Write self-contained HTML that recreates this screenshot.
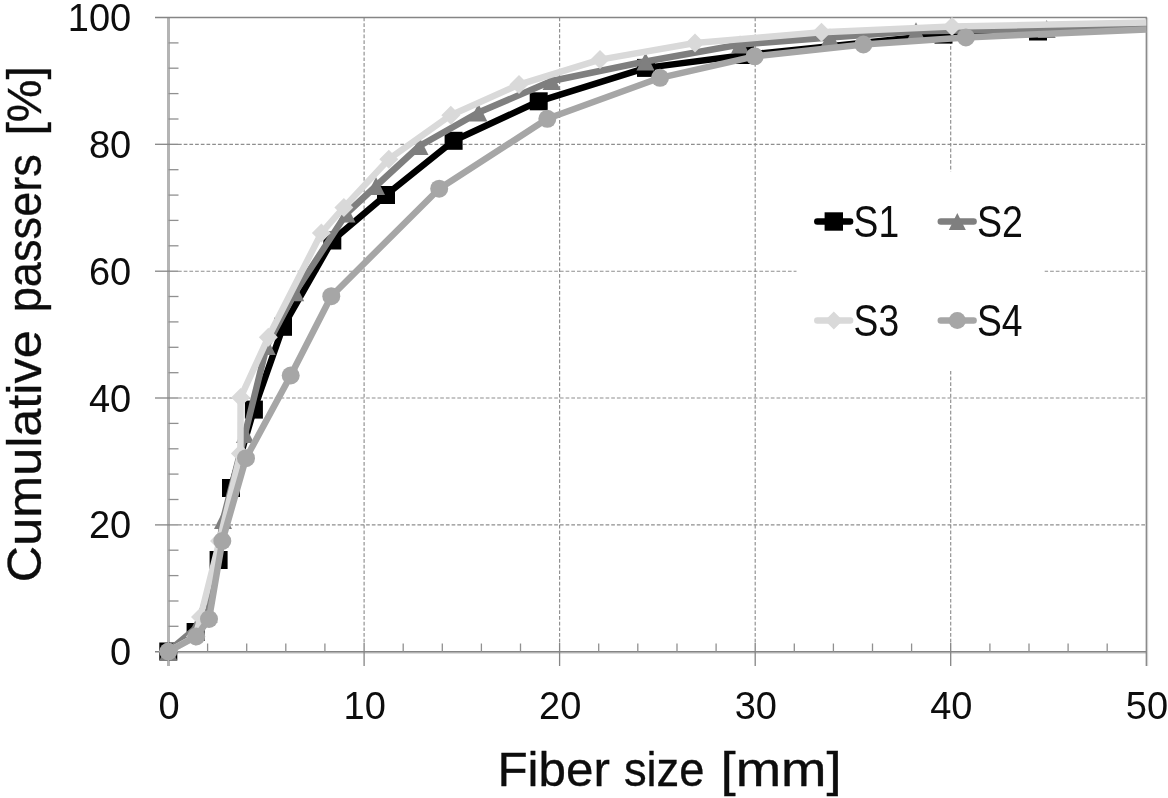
<!DOCTYPE html>
<html lang="en"><head><meta charset="utf-8"><title>Cumulative passers vs fiber size</title>
<style>html,body{margin:0;padding:0;background:#fff}body{width:1168px;height:798px;overflow:hidden}svg{display:block;filter:blur(0.55px)}text{font-family:"Liberation Sans",sans-serif;fill:#0d0d0d}</style>
</head><body>
<svg width="1168" height="798" viewBox="0 0 1168 798">
<rect width="1168" height="798" fill="#fff"/>
<g stroke="#8e8e8e" stroke-width="1.15" stroke-dasharray="3.7,2" fill="none">
<line x1="178.0" y1="524.9" x2="1146.3" y2="524.9"/>
<line x1="178.0" y1="398.0" x2="1146.3" y2="398.0"/>
<line x1="178.0" y1="271.2" x2="1146.3" y2="271.2"/>
<line x1="178.0" y1="144.3" x2="1146.3" y2="144.3"/>
<line x1="364.1" y1="17.5" x2="364.1" y2="643.0"/>
<line x1="559.6" y1="17.5" x2="559.6" y2="643.0"/>
<line x1="755.2" y1="17.5" x2="755.2" y2="643.0"/>
<line x1="950.7" y1="17.5" x2="950.7" y2="643.0"/>
</g>
<g stroke="#858585" stroke-width="1.3" fill="none">
<line x1="168.5" y1="17.5" x2="168.5" y2="666.0" stroke-width="3" stroke="#b4b4b4"/>
<line x1="168.5" y1="653.0" x2="1147.3" y2="653.0" stroke="#d2d2d2"/>
<line x1="1147.5" y1="17.5" x2="1147.5" y2="666.0" stroke="#d2d2d2"/>
<line x1="155.0" y1="17.5" x2="1146.9" y2="17.5"/>
<line x1="1146.3" y1="17.5" x2="1146.3" y2="666.0"/>
<line x1="155.0" y1="651.7" x2="1146.3" y2="651.7" stroke-width="1.5"/>
<line x1="168.5" y1="626.3" x2="178.5" y2="626.3" stroke="#909090"/>
<line x1="168.5" y1="601.0" x2="178.5" y2="601.0" stroke="#909090"/>
<line x1="168.5" y1="575.6" x2="178.5" y2="575.6" stroke="#909090"/>
<line x1="168.5" y1="550.2" x2="178.5" y2="550.2" stroke="#909090"/>
<line x1="155" y1="524.9" x2="178" y2="524.9"/>
<line x1="168.5" y1="499.5" x2="178.5" y2="499.5" stroke="#909090"/>
<line x1="168.5" y1="474.1" x2="178.5" y2="474.1" stroke="#909090"/>
<line x1="168.5" y1="448.8" x2="178.5" y2="448.8" stroke="#909090"/>
<line x1="168.5" y1="423.4" x2="178.5" y2="423.4" stroke="#909090"/>
<line x1="155" y1="398.0" x2="178" y2="398.0"/>
<line x1="168.5" y1="372.7" x2="178.5" y2="372.7" stroke="#909090"/>
<line x1="168.5" y1="347.3" x2="178.5" y2="347.3" stroke="#909090"/>
<line x1="168.5" y1="321.9" x2="178.5" y2="321.9" stroke="#909090"/>
<line x1="168.5" y1="296.5" x2="178.5" y2="296.5" stroke="#909090"/>
<line x1="155" y1="271.2" x2="178" y2="271.2"/>
<line x1="168.5" y1="245.8" x2="178.5" y2="245.8" stroke="#909090"/>
<line x1="168.5" y1="220.4" x2="178.5" y2="220.4" stroke="#909090"/>
<line x1="168.5" y1="195.1" x2="178.5" y2="195.1" stroke="#909090"/>
<line x1="168.5" y1="169.7" x2="178.5" y2="169.7" stroke="#909090"/>
<line x1="155" y1="144.3" x2="178" y2="144.3"/>
<line x1="168.5" y1="119.0" x2="178.5" y2="119.0" stroke="#909090"/>
<line x1="168.5" y1="93.6" x2="178.5" y2="93.6" stroke="#909090"/>
<line x1="168.5" y1="68.2" x2="178.5" y2="68.2" stroke="#909090"/>
<line x1="168.5" y1="42.9" x2="178.5" y2="42.9" stroke="#909090"/>
<line x1="207.6" y1="643.5" x2="207.6" y2="651.7" stroke="#909090"/>
<line x1="246.7" y1="643.5" x2="246.7" y2="651.7" stroke="#909090"/>
<line x1="285.8" y1="643.5" x2="285.8" y2="651.7" stroke="#909090"/>
<line x1="324.9" y1="643.5" x2="324.9" y2="651.7" stroke="#909090"/>
<line x1="364.1" y1="643" x2="364.1" y2="666"/>
<line x1="403.2" y1="643.5" x2="403.2" y2="651.7" stroke="#909090"/>
<line x1="442.3" y1="643.5" x2="442.3" y2="651.7" stroke="#909090"/>
<line x1="481.4" y1="643.5" x2="481.4" y2="651.7" stroke="#909090"/>
<line x1="520.5" y1="643.5" x2="520.5" y2="651.7" stroke="#909090"/>
<line x1="559.6" y1="643" x2="559.6" y2="666"/>
<line x1="598.7" y1="643.5" x2="598.7" y2="651.7" stroke="#909090"/>
<line x1="637.8" y1="643.5" x2="637.8" y2="651.7" stroke="#909090"/>
<line x1="677.0" y1="643.5" x2="677.0" y2="651.7" stroke="#909090"/>
<line x1="716.1" y1="643.5" x2="716.1" y2="651.7" stroke="#909090"/>
<line x1="755.2" y1="643" x2="755.2" y2="666"/>
<line x1="794.3" y1="643.5" x2="794.3" y2="651.7" stroke="#909090"/>
<line x1="833.4" y1="643.5" x2="833.4" y2="651.7" stroke="#909090"/>
<line x1="872.5" y1="643.5" x2="872.5" y2="651.7" stroke="#909090"/>
<line x1="911.6" y1="643.5" x2="911.6" y2="651.7" stroke="#909090"/>
<line x1="950.7" y1="643" x2="950.7" y2="666"/>
<line x1="989.9" y1="643.5" x2="989.9" y2="651.7" stroke="#909090"/>
<line x1="1029.0" y1="643.5" x2="1029.0" y2="651.7" stroke="#909090"/>
<line x1="1068.1" y1="643.5" x2="1068.1" y2="651.7" stroke="#909090"/>
<line x1="1107.2" y1="643.5" x2="1107.2" y2="651.7" stroke="#909090"/>
</g>
<rect x="796.5" y="171.5" width="248" height="198" fill="#fff"/>
<g>
<polyline points="168.3,651.5 195.6,632.0 218.6,560.0 231.0,488.0 253.9,409.6 283.0,326.8 332.3,240.5 386.0,195.0 453.6,140.8 538.7,101.3 646.0,67.9 745.0,55.0 943.5,34.6 1038.0,31.5" fill="none" stroke="#000000" stroke-width="6.5" stroke-linejoin="round" stroke-linecap="butt"/>
<rect x="159.3" y="642.5" width="18" height="18" fill="#000000"/>
<rect x="186.6" y="623.0" width="18" height="18" fill="#000000"/>
<rect x="209.6" y="551.0" width="18" height="18" fill="#000000"/>
<rect x="222.0" y="479.0" width="18" height="18" fill="#000000"/>
<rect x="244.9" y="400.6" width="18" height="18" fill="#000000"/>
<rect x="274.0" y="317.8" width="18" height="18" fill="#000000"/>
<rect x="323.3" y="231.5" width="18" height="18" fill="#000000"/>
<rect x="377.0" y="186.0" width="18" height="18" fill="#000000"/>
<rect x="444.6" y="131.8" width="18" height="18" fill="#000000"/>
<rect x="529.7" y="92.3" width="18" height="18" fill="#000000"/>
<rect x="637.0" y="58.9" width="18" height="18" fill="#000000"/>
<rect x="736.0" y="46.0" width="18" height="18" fill="#000000"/>
<rect x="934.5" y="25.6" width="18" height="18" fill="#000000"/>
<rect x="1029.0" y="22.5" width="18" height="18" fill="#000000"/>
</g>
<g>
<polyline points="168.3,651.5 196.0,628.0 208.5,614.0 223.0,520.0 245.0,434.0 266.7,346.1 295.2,292.3 346.5,213.5 376.0,186.0 419.5,146.0 478.4,112.6 551.6,81.0 645.5,61.5 740.0,44.5 830.0,37.5 916.0,31.3 1046.7,28.9 1146.3,27.5" fill="none" stroke="#7f7f7f" stroke-width="6.5" stroke-linejoin="round" stroke-linecap="butt"/>
<polygon points="168.3,642.5 177.3,660.5 159.3,660.5" fill="#7f7f7f"/>
<polygon points="196.0,619.0 205.0,637.0 187.0,637.0" fill="#7f7f7f"/>
<polygon points="208.5,605.0 217.5,623.0 199.5,623.0" fill="#7f7f7f"/>
<polygon points="223.0,511.0 232.0,529.0 214.0,529.0" fill="#7f7f7f"/>
<polygon points="245.0,425.0 254.0,443.0 236.0,443.0" fill="#7f7f7f"/>
<polygon points="266.7,337.1 275.7,355.1 257.7,355.1" fill="#7f7f7f"/>
<polygon points="295.2,283.3 304.2,301.3 286.2,301.3" fill="#7f7f7f"/>
<polygon points="346.5,204.5 355.5,222.5 337.5,222.5" fill="#7f7f7f"/>
<polygon points="376.0,177.0 385.0,195.0 367.0,195.0" fill="#7f7f7f"/>
<polygon points="419.5,137.0 428.5,155.0 410.5,155.0" fill="#7f7f7f"/>
<polygon points="478.4,103.6 487.4,121.6 469.4,121.6" fill="#7f7f7f"/>
<polygon points="551.6,72.0 560.6,90.0 542.6,90.0" fill="#7f7f7f"/>
<polygon points="645.5,52.5 654.5,70.5 636.5,70.5" fill="#7f7f7f"/>
<polygon points="740.0,35.5 749.0,53.5 731.0,53.5" fill="#7f7f7f"/>
<polygon points="830.0,28.5 839.0,46.5 821.0,46.5" fill="#7f7f7f"/>
<polygon points="916.0,22.3 925.0,40.3 907.0,40.3" fill="#7f7f7f"/>
<polygon points="1046.7,19.9 1055.7,37.9 1037.7,37.9" fill="#7f7f7f"/>
</g>
<g>
<polyline points="168.3,651.5 195.5,636.5 200.5,617.0 219.5,541.0 240.4,453.4 240.6,397.5 268.3,337.3 321.4,232.9 343.9,207.4 388.8,159.2 450.8,115.2 519.0,84.6 600.0,59.6 695.0,43.0 821.5,32.3 952.0,26.6 1146.3,22.5" fill="none" stroke="#d9d9d9" stroke-width="6.5" stroke-linejoin="round" stroke-linecap="butt"/>
<polygon points="168.3,642.0 177.8,651.5 168.3,661.0 158.8,651.5" fill="#d9d9d9"/>
<polygon points="195.5,627.0 205.0,636.5 195.5,646.0 186.0,636.5" fill="#d9d9d9"/>
<polygon points="200.5,607.5 210.0,617.0 200.5,626.5 191.0,617.0" fill="#d9d9d9"/>
<polygon points="219.5,531.5 229.0,541.0 219.5,550.5 210.0,541.0" fill="#d9d9d9"/>
<polygon points="240.4,443.9 249.9,453.4 240.4,462.9 230.9,453.4" fill="#d9d9d9"/>
<polygon points="240.6,388.0 250.1,397.5 240.6,407.0 231.1,397.5" fill="#d9d9d9"/>
<polygon points="268.3,327.8 277.8,337.3 268.3,346.8 258.8,337.3" fill="#d9d9d9"/>
<polygon points="321.4,223.4 330.9,232.9 321.4,242.4 311.9,232.9" fill="#d9d9d9"/>
<polygon points="343.9,197.9 353.4,207.4 343.9,216.9 334.4,207.4" fill="#d9d9d9"/>
<polygon points="388.8,149.7 398.3,159.2 388.8,168.7 379.3,159.2" fill="#d9d9d9"/>
<polygon points="450.8,105.7 460.3,115.2 450.8,124.7 441.3,115.2" fill="#d9d9d9"/>
<polygon points="519.0,75.1 528.5,84.6 519.0,94.1 509.5,84.6" fill="#d9d9d9"/>
<polygon points="600.0,50.1 609.5,59.6 600.0,69.1 590.5,59.6" fill="#d9d9d9"/>
<polygon points="695.0,33.5 704.5,43.0 695.0,52.5 685.5,43.0" fill="#d9d9d9"/>
<polygon points="821.5,22.8 831.0,32.3 821.5,41.8 812.0,32.3" fill="#d9d9d9"/>
<polygon points="952.0,17.1 961.5,26.6 952.0,36.1 942.5,26.6" fill="#d9d9d9"/>
</g>
<g>
<polyline points="168.3,651.5 196.2,636.5 209.0,619.0 222.3,541.0 246.0,458.2 290.7,375.5 331.3,296.2 439.2,188.7 547.3,118.8 660.0,77.8 754.7,56.3 863.4,44.5 965.9,37.4 1146.3,29.5" fill="none" stroke="#a6a6a6" stroke-width="6.5" stroke-linejoin="round" stroke-linecap="butt"/>
<circle cx="168.3" cy="651.5" r="9" fill="#a6a6a6"/>
<circle cx="196.2" cy="636.5" r="9" fill="#a6a6a6"/>
<circle cx="209.0" cy="619.0" r="9" fill="#a6a6a6"/>
<circle cx="222.3" cy="541.0" r="9" fill="#a6a6a6"/>
<circle cx="246.0" cy="458.2" r="9" fill="#a6a6a6"/>
<circle cx="290.7" cy="375.5" r="9" fill="#a6a6a6"/>
<circle cx="331.3" cy="296.2" r="9" fill="#a6a6a6"/>
<circle cx="439.2" cy="188.7" r="9" fill="#a6a6a6"/>
<circle cx="547.3" cy="118.8" r="9" fill="#a6a6a6"/>
<circle cx="660.0" cy="77.8" r="9" fill="#a6a6a6"/>
<circle cx="754.7" cy="56.3" r="9" fill="#a6a6a6"/>
<circle cx="863.4" cy="44.5" r="9" fill="#a6a6a6"/>
<circle cx="965.9" cy="37.4" r="9" fill="#a6a6a6"/>
</g>
<line x1="817.3" y1="221.5" x2="850.1" y2="221.5" stroke="#000000" stroke-width="6.5" stroke-linecap="round"/>
<rect x="824.6" y="212.3" width="18.4" height="18.4" fill="#000000"/>
<text x="853.6" y="236.8" font-size="44" textLength="45.5" lengthAdjust="spacingAndGlyphs">S1</text>
<line x1="940.8" y1="221.5" x2="973.6" y2="221.5" stroke="#7f7f7f" stroke-width="6.5" stroke-linecap="round"/>
<polygon points="957.3,213.0 965.8,230.0 948.8,230.0" fill="#7f7f7f"/>
<text x="977.0" y="236.8" font-size="44" textLength="46.0" lengthAdjust="spacingAndGlyphs">S2</text>
<line x1="817.3" y1="320.4" x2="850.1" y2="320.4" stroke="#d9d9d9" stroke-width="6.5" stroke-linecap="round"/>
<polygon points="833.8,311.4 842.8,320.4 833.8,329.4 824.8,320.4" fill="#d9d9d9"/>
<text x="853.6" y="335.7" font-size="44" textLength="45.5" lengthAdjust="spacingAndGlyphs">S3</text>
<line x1="940.8" y1="320.4" x2="973.6" y2="320.4" stroke="#a6a6a6" stroke-width="6.5" stroke-linecap="round"/>
<circle cx="957.3" cy="320.4" r="8.5" fill="#a6a6a6"/>
<text x="977.0" y="335.7" font-size="44" textLength="45.6" lengthAdjust="spacingAndGlyphs">S4</text>
<text x="131.2" y="665.2" font-size="38" text-anchor="end">0</text>
<text x="131.2" y="538.4" font-size="38" text-anchor="end">20</text>
<text x="131.2" y="411.5" font-size="38" text-anchor="end">40</text>
<text x="131.2" y="284.7" font-size="38" text-anchor="end">60</text>
<text x="131.2" y="157.8" font-size="38" text-anchor="end">80</text>
<text x="131.2" y="31.0" font-size="38" text-anchor="end">100</text>
<text x="169.1" y="718.7" font-size="38" text-anchor="middle">0</text>
<text x="364.7" y="718.7" font-size="38" text-anchor="middle">10</text>
<text x="560.2" y="718.7" font-size="38" text-anchor="middle">20</text>
<text x="755.8" y="718.7" font-size="38" text-anchor="middle">30</text>
<text x="951.3" y="718.7" font-size="38" text-anchor="middle">40</text>
<text x="1146.9" y="718.7" font-size="38" text-anchor="middle">50</text>
<text y="786.2" font-size="49" stroke="#0d0d0d" stroke-width="0.35">
<tspan x="497.4" textLength="112.5" lengthAdjust="spacingAndGlyphs">Fiber</tspan> 
<tspan x="623.9" textLength="80.6" lengthAdjust="spacingAndGlyphs">size</tspan> 
<tspan x="720.5" textLength="121.2" lengthAdjust="spacingAndGlyphs">[mm]</tspan> 
</text>
<text transform="translate(40.6,0) rotate(-90)" y="0" font-size="49" stroke="#0d0d0d" stroke-width="0.35">
<tspan x="-582.2" textLength="251.9" lengthAdjust="spacingAndGlyphs">Cumulative</tspan> 
<tspan x="-312.3" textLength="158.2" lengthAdjust="spacingAndGlyphs">passers</tspan> 
<tspan x="-135.6" textLength="69.4" lengthAdjust="spacingAndGlyphs">[%]</tspan> 
</text>
</svg>
</body></html>
